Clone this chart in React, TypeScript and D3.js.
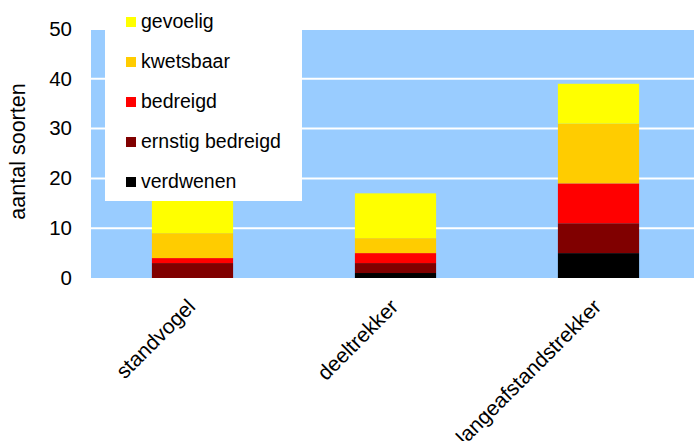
import React from "react";
import * as d3 from "d3";

// Categories (migration type) and the stacked series, bottom to top
const categories = ["standvogel", "deeltrekker", "langeafstandstrekker"];
const seriesNames = ["verdwenen", "ernstig bedreigd", "bedreigd", "kwetsbaar", "gevoelig"];
const seriesColors = ["#000000", "#800000", "#FF0000", "#FFCC00", "#FFFF00"];

const verdwenen = [0, 1, 5];
const ernstigBedreigd = [3, 2, 6];
const bedreigd = [1, 2, 8];
const kwetsbaar = [5, 3, 12];
const gevoelig = [7, 9, 8];

const yTicks = [0, 10, 20, 30, 40, 50];
const yTitle = "aantal soorten";

const W = 694;
const H = 441;
const FONT = "'Liberation Sans', Arial, Helvetica, sans-serif";

export default function App() {
  const rows = categories.map((c, i) => ({
    category: c,
    verdwenen: verdwenen[i],
    "ernstig bedreigd": ernstigBedreigd[i],
    bedreigd: bedreigd[i],
    kwetsbaar: kwetsbaar[i],
    gevoelig: gevoelig[i],
  }));

  const stack = d3.stack<any>().keys(seriesNames);
  const layers = stack(rows);

  const left = 91;
  const right = 700;
  const x = d3
    .scaleBand<string>()
    .domain(categories)
    .range([left, right])
    .paddingInner(0.6)
    .paddingOuter(0.3);
  const y = d3.scaleLinear().domain([0, 50]).range([278, 29]);

  const color = d3.scaleOrdinal<string, string>().domain(seriesNames).range(seriesColors);

  // legend lists the series top to bottom, highest stack first
  const legendItems = [...seriesNames].reverse();

  return (
    <svg
      width={W}
      height={H}
      style={{ position: "absolute", left: 0, top: 0, display: "block", background: "#fff" }}
      fontFamily={FONT}
    >
      {/* plot background */}
      <rect x={left} y={y(50)} width={right - left} height={y(0) - y(50)} fill="#99CCFF" />

      {/* horizontal grid */}
      {yTicks
        .filter((t) => t > 0)
        .map((t) => (
          <line key={t} x1={left} x2={right} y1={y(t)} y2={y(t)} stroke="#FFFFFF" strokeWidth={2} />
        ))}

      {/* stacked bars */}
      {layers.map((layer) => (
        <g key={layer.key} fill={color(layer.key)}>
          {layer.map((d, i) => (
            <rect
              key={i}
              x={x(categories[i])!}
              y={y(d[1])}
              width={x.bandwidth()}
              height={Math.max(0, y(d[0]) - y(d[1]))}
            />
          ))}
        </g>
      ))}

      {/* y tick labels */}
      {yTicks.map((t) => (
        <text key={t} x={72} y={y(t)} dy="0.33em" textAnchor="end" fontSize={20.5} fill="#000">
          {t}
        </text>
      ))}

      {/* y axis title */}
      <text
        transform={`translate(25,${(y(0) + y(50)) / 2 - 2}) rotate(-90)`}
        textAnchor="middle"
        fontSize={21.5}
        fill="#000"
      >
        {yTitle}
      </text>

      {/* category labels */}
      {categories.map((c) => {
        const cx = x(c)! + x.bandwidth() / 2 + 4;
        return (
          <text
            key={c}
            transform={`translate(${cx},308) rotate(-45)`}
            textAnchor="end"
            fontSize={21}
            fill="#000"
          >
            {c}
          </text>
        );
      })}

      {/* legend */}
      <rect x={105} y={-10} width={197} height={211} fill="#FFFFFF" />
      {legendItems.map((name, i) => {
        const cy = 22 + i * 40;
        return (
          <g key={name}>
            <rect x={126} y={cy - 5} width={10} height={10} fill={color(name)} />
            <text x={141} y={cy} dy="0.33em" fontSize={19.5} fill="#000">
              {name}
            </text>
          </g>
        );
      })}
    </svg>
  );
}
